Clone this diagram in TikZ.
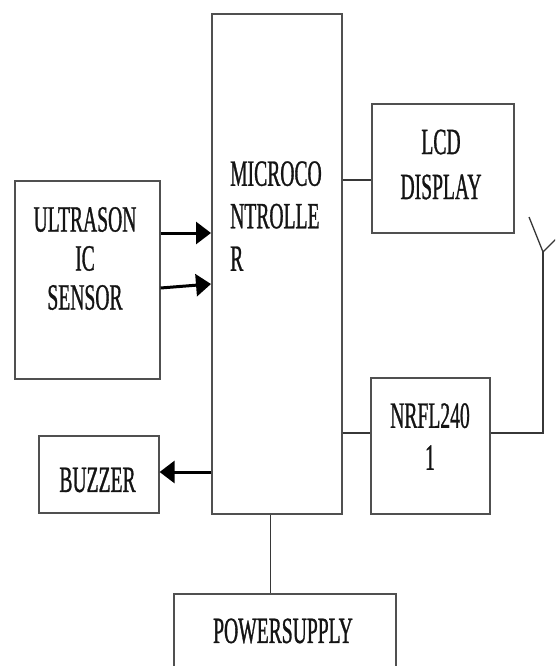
\documentclass[tikz,border=0pt]{standalone}
\usepackage{fontspec}
\setmainfont{Liberation Serif}[FakeStretch=0.53, FakeBold=0.8]
\usetikzlibrary{arrows.meta}
\definecolor{boxgray}{HTML}{505050}
\definecolor{inkc}{HTML}{141414}
\tikzset{
  blk/.style={draw=boxgray, line width=1.6pt, rectangle, inner sep=0pt, anchor=north west, fill=white},
  lbl/.style={inner sep=0pt, text=inkc, font=\fontsize{37}{42}\selectfont},
  wire/.style={draw=inkc!85, line width=1.3pt},
  arr/.style={draw=black, line width=3pt, -{Triangle[length=15pt,width=22pt]}},
}
\begin{document}
\begin{tikzpicture}[x=1pt,y=-1pt]
\clip (0,0) rectangle (555,666);
\fill[white] (0,0) rectangle (555,666);
% boxes
\node[blk, minimum width=145pt, minimum height=198pt] (us) at (14,180) {};
\node[blk, minimum width=130pt, minimum height=500pt] (mc) at (211,13) {};
\node[blk, minimum width=142pt, minimum height=129pt] (lcd) at (371,103) {};
\node[blk, minimum width=119pt, minimum height=136pt] (nrf) at (370,377) {};
\node[blk, minimum width=120pt, minimum height=77pt] (bz) at (38,435) {};
\node[blk, minimum width=222pt, minimum height=110pt] (ps) at (173,593) {};
% labels
\node[lbl, align=center, font=\fontsize{37}{39}\selectfont] (ust) at (85,258.5) {ULTRASON\\IC\\SENSOR};
\node[lbl, align=left, anchor=west, font=\fontsize{37}{42.5}\selectfont] (mct) at (230,216) {MICROCO\\NTROLLE\\R};
\node[lbl, align=center, font=\fontsize{37}{45}\selectfont] (lcdt) at (441,164.5) {LCD\\DISPLAY};
\node[lbl, align=center, font=\fontsize{37}{42}\selectfont] (nrft) at (430,436.5) {NRFL240\\1};
\node[lbl] (bzt) at (97.5,480) {BUZZER};
\node[lbl] (pst) at (283,631) {POWERSUPPLY};
% connectors
\coordinate (lcdin) at ([yshift=-77pt]lcd.north west);
\draw[wire] (lcdin -| mc.east) -- (lcdin);
\coordinate (nrfin) at ([yshift=-56pt]nrf.north west);
\draw[wire] (nrfin -| mc.east) -- (nrfin);
\coordinate (nrfout) at ([yshift=-56pt]nrf.north east);
\coordinate (ant) at (543,252);
\coordinate (antl) at (529,217);
\coordinate (antr) at (562,233);
\draw[wire] (nrfout) -| (ant);
\draw[wire] (antl) -- (ant) -- (antr);
\draw[wire] ([xshift=-6pt]mc.south) -- ([xshift=-6pt]mc.south |- ps.north);
% arrows
\draw[arr] ([yshift=-53pt]us.north east) -- ([yshift=-53pt]us.north east -| mc.west);
\draw[arr] ([yshift=-108pt]us.north east) -- ([yshift=-271pt]mc.north west);
\draw[arr] ([yshift=-37pt]bz.north east -| mc.west) -- ([yshift=-37pt]bz.north east);
\end{tikzpicture}
\end{document}
